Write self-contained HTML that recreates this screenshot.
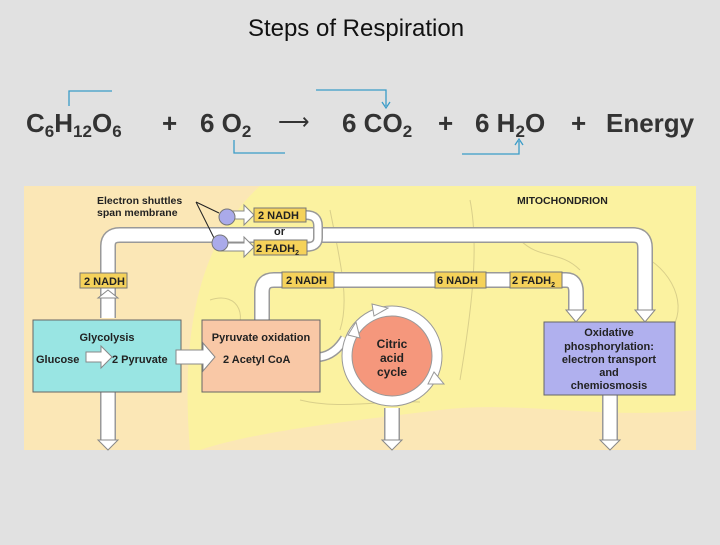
<!DOCTYPE html>
<html><head><meta charset="utf-8"><style>
body{margin:0;width:720px;height:540px;background:#e1e1e1;overflow:hidden;font-family:"Liberation Sans",sans-serif}
</style></head><body>
<svg width="720" height="540" xmlns="http://www.w3.org/2000/svg" font-family="Liberation Sans, sans-serif">
<rect width="720" height="540" fill="#e1e1e1"/>
<text x="356" y="36" font-size="24" text-anchor="middle" fill="#111">Steps of Respiration</text>
<g font-size="26" font-weight="bold" fill="#333">
<text x="26" y="132">C<tspan font-size="17" dy="5">6</tspan><tspan dy="-5">H</tspan><tspan font-size="17" dy="5">12</tspan><tspan dy="-5">O</tspan><tspan font-size="17" dy="5">6</tspan></text>
<text x="162" y="132">+</text>
<text x="200" y="132">6 O<tspan font-size="17" dy="5">2</tspan></text>
<text x="342" y="132">6 CO<tspan font-size="17" dy="5">2</tspan></text>
<text x="438" y="132">+</text>
<text x="475" y="132">6 H<tspan font-size="17" dy="5">2</tspan><tspan dy="-5">O</tspan></text>
<text x="571" y="132">+</text>
<text x="606" y="132">Energy</text>
</g>
<text x="278" y="129" font-size="22" fill="#333">⟶</text>
<g stroke="#3a9cc8" stroke-width="1.3" fill="none">
<path d="M69 106 V91 H112"/>
<path d="M234 140 V153 H285"/>
<path d="M316 90 H386 V106"/><path d="M382 102 L386 108 L390 102"/>
<path d="M462 154 H519 V141"/><path d="M515 145 L519 139 L523 145"/>
</g>
<rect x="24" y="186" width="672" height="264" fill="#fbe7b6"/>
<path d="M190 450 C180 330 200 240 260 186 L696 186 L696 410 C600 420 520 400 440 410 C360 420 260 430 200 450 Z" fill="#fbf2a0"/>
<g stroke="#d9cf8a" stroke-width="1" fill="none">
<path d="M210 300 C240 290 250 320 230 340"/><path d="M330 210 C340 260 350 300 340 330"/>
<path d="M470 200 C480 250 470 320 460 380"/><path d="M520 240 C540 260 560 250 580 270"/>
<path d="M650 260 C680 280 690 320 660 340"/><path d="M300 400 C340 410 380 400 420 402"/>
</g>
<g fill="none" stroke-linejoin="round">
<path d="M108 318 V246 Q108 235 120 235 H633 Q645 235 645 248 V312" stroke="#999" stroke-width="16"/>
<path d="M108 318 V246 Q108 235 120 235 H633 Q645 235 645 248 V312" stroke="#fff" stroke-width="13"/>
<path d="M262 320 V292 Q262 280 274 280 H566 Q576 280 576 292 V312" stroke="#999" stroke-width="16"/>
<path d="M262 320 V292 Q262 280 274 280 H566 Q576 280 576 292 V312" stroke="#fff" stroke-width="13"/>
<path d="M306 215 Q318 215 318 226 V238 Q318 247 306 247" stroke="#999" stroke-width="10"/>
<path d="M306 215 Q318 215 318 226 V238 Q318 247 306 247" stroke="#fff" stroke-width="7"/>
<path d="M108 392 V440 M392 408 V440 M610 395 V440" stroke="#999" stroke-width="16"/>
<path d="M108 392 V441 M392 408 V441 M610 395 V441" stroke="#fff" stroke-width="13"/>
<path d="M320 357 Q335 355 345 338" stroke="#999" stroke-width="10"/>
<path d="M320 357 Q335 355 345 338" stroke="#fff" stroke-width="7"/>
</g>
<circle cx="392" cy="356" r="50" fill="#fff" stroke="#999"/>
<circle cx="392" cy="356" r="40" fill="#f5977c" stroke="#999"/>
<g fill="#fff" stroke="#999">
<path d="M372 304 L388 308 L374 316 Z"/><path d="M434 372 L444 384 L428 384 Z"/><path d="M348 335 L356 322 L360 338 Z"/>
</g>
<text x="392" y="348" font-size="12" font-weight="bold" text-anchor="middle" fill="#222">Citric</text>
<text x="392" y="362" font-size="12" font-weight="bold" text-anchor="middle" fill="#222">acid</text>
<text x="392" y="376" font-size="12" font-weight="bold" text-anchor="middle" fill="#222">cycle</text>
<rect x="33" y="320" width="148" height="72" fill="#99e5e3" stroke="#666"/>
<rect x="202" y="320" width="118" height="72" fill="#f9c8a6" stroke="#666"/>
<rect x="544" y="322" width="131" height="73" fill="#b0b0ee" stroke="#666"/>
<g fill="#fff" stroke="#888" stroke-width="1">
<path d="M98 440 H118 L108 450 Z"/><path d="M382 440 H402 L392 450 Z"/><path d="M600 440 H620 L610 450 Z"/>
<path d="M98 298 H118 L108 290 Z"/>
<path d="M635 310 H655 L645 322 Z"/><path d="M566 310 H586 L576 322 Z"/>
<path d="M228 211 H244 V205 L254 215 L244 225 V219 H228 Z"/>
<path d="M221 243 H244 V237 L254 247 L244 257 V251 H221 Z"/>
<path d="M86 352 H101 V346 L112 357 L101 368 V362 H86 Z"/>
<path d="M176 350 H203 V343 L215 357 L203 371 V364 H176 Z"/>
</g>
<text x="107" y="341" font-size="11" font-weight="bold" text-anchor="middle" fill="#222">Glycolysis</text>
<text x="36" y="363" font-size="11" font-weight="bold" fill="#222">Glucose</text>
<text x="112" y="363" font-size="11" font-weight="bold" fill="#222">2 Pyruvate</text>
<text x="261" y="341" font-size="11" font-weight="bold" text-anchor="middle" fill="#222">Pyruvate oxidation</text>
<text x="223" y="363" font-size="11" font-weight="bold" fill="#222">2 Acetyl CoA</text>
<g font-size="11" font-weight="bold" text-anchor="middle" fill="#222">
<text x="609" y="336">Oxidative</text><text x="609" y="350">phosphorylation:</text>
<text x="609" y="363">electron transport</text><text x="609" y="376">and</text><text x="609" y="389">chemiosmosis</text>
</g>
<g font-size="11" font-weight="bold" fill="#222">
<rect x="80" y="273" width="47" height="15" fill="#f5d25a" stroke="#777"/><text x="84" y="285">2 NADH</text>
<rect x="254" y="208" width="52" height="14" fill="#f5d25a" stroke="#777"/><text x="258" y="219">2 NADH</text>
<text x="274" y="235">or</text>
<rect x="254" y="240" width="53" height="15" fill="#f5d25a" stroke="#777"/><text x="256" y="252">2 FADH<tspan font-size="7" dy="3">2</tspan></text>
<rect x="282" y="272" width="52" height="16" fill="#f5d25a" stroke="#777"/><text x="286" y="284">2 NADH</text>
<rect x="435" y="272" width="51" height="16" fill="#f5d25a" stroke="#777"/><text x="437" y="284">6 NADH</text>
<rect x="510" y="272" width="52" height="16" fill="#f5d25a" stroke="#777"/><text x="512" y="284">2 FADH<tspan font-size="7" dy="3">2</tspan></text>
<text x="97" y="204" font-size="10.5">Electron shuttles</text>
<text x="97" y="216" font-size="10.5">span membrane</text>
<text x="517" y="204" font-size="10.5">MITOCHONDRION</text>
</g>
<path d="M196 202 L219 213 M196 202 L214 238" stroke="#222" stroke-width="1"/>
<circle cx="227" cy="217" r="8" fill="#aaaaea" stroke="#777"/>
<circle cx="220" cy="243" r="8" fill="#aaaaea" stroke="#777"/>
</svg>
</body></html>
